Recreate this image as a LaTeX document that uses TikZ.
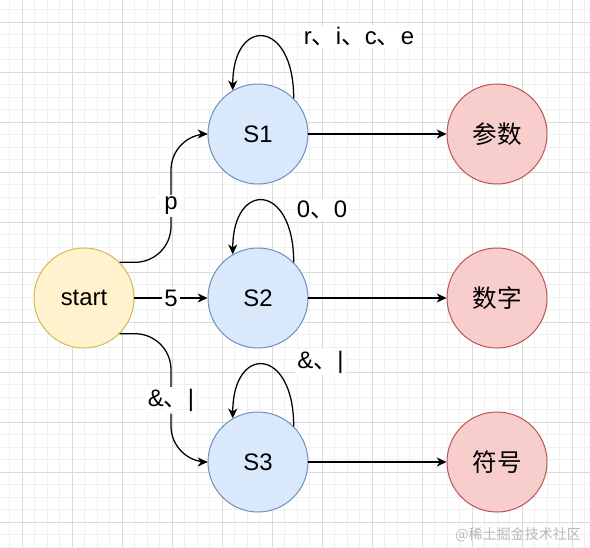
\documentclass[tikz,border=0pt]{standalone}
\usepackage{fontspec}
\setmainfont{Liberation Sans}
\newfontfamily\cjk{Noto Sans CJK SC}
\newcommand{\dunhao}{{\cjk 、}}
\definecolor{startfill}{HTML}{FFF2CC}
\definecolor{startline}{HTML}{D6B656}
\definecolor{statefill}{HTML}{DAE8FC}
\definecolor{stateline}{HTML}{6C8EBF}
\definecolor{endfill}{HTML}{F8CECC}
\definecolor{endline}{HTML}{B85450}
\definecolor{gridminor}{HTML}{F0F0F0}
\definecolor{gridmajor}{HTML}{DADADA}
\usetikzlibrary{arrows.meta, positioning}

\begin{document}
\begin{tikzpicture}[
          minorgrid/.style={draw=gridminor, line width=0.5pt},
          majorgrid/.style={draw=gridmajor, line width=0.5pt},
          startnode/.style={
              circle,
              draw=startline,
              fill=startfill,
              line width=0.7pt,
              minimum size=2.5cm,
              font=\fontsize{17}{20}\selectfont
            },
          state/.style={
              circle,
              draw=stateline,
              fill=statefill,
              line width=0.7pt,
              minimum size=2.5cm,
              font=\fontsize{17}{20}\selectfont
            },
          accept/.style={
              circle,
              draw=endline,
              fill=endfill,
              line width=0.7pt,
              minimum size=2.5cm,
              font=\fontsize{17.5}{20}\selectfont\cjk
            },
          lbl/.style={fill=white, inner sep=1.5pt, font=\fontsize{17}{20}\selectfont},
          arr/.style={-{Stealth[length=7pt, width=6.5pt, inset=2.2pt]}, line width=0.9pt},
          bent/.style={arr, rounded corners=0.9cm}
        ]
        \useasboundingbox (0,0) rectangle (14.75,-13.675);
        \fill[white] (0,0) rectangle (14.75,-13.675);
        \begin{scope}
          \clip (0,0) rectangle (14.75,-13.675);
          \foreach \i in {0,...,47} {
              \draw[minorgrid] ({0.2375+0.3125*\i},0) -- ++(0,-13.675);
            }
          \foreach \i in {0,...,43} {
              \draw[minorgrid] (0,{-0.2375-0.3125*\i}) -- ++(14.75,0);
            }
          \foreach \i in {0,...,11} {
              \draw[majorgrid] ({0.55+1.25*\i},0) -- ++(0,-13.675);
            }
          \foreach \i in {0,...,10} {
              \draw[majorgrid] (0,{-0.55-1.25*\i}) -- ++(14.75,0);
            }
        \end{scope}

        \node[startnode] (start) at (2.1,-7.45) {start};
        \node[state] (s1) at (6.45,-3.35) {S1};
        \node[state] (s2) at (6.45,-7.45) {S2};
        \node[state] (s3) at (6.45,-11.55) {S3};
        \node[accept] (param) at (12.425,-3.35) {参数};
        \node[accept] (digit) at (12.425,-7.45) {数字};
        \node[accept] (symbol) at (12.425,-11.55) {符号};

        \coordinate (bend1) at (4.275,-3.35);
        \coordinate (bend3) at (4.275,-11.55);

        \draw[bent] (start.45) -| node[lbl, pos=0.72] {p} (bend1) -- (s1.west);
        \draw[arr] (start) -- node[lbl] {5} (s2);
        \draw[bent] (start.-45) -| node[lbl, pos=0.76] {\&\dunhao|} (bend3) -- (s3.west);

        \draw[arr] (s1.45) .. controls +(0,2.0) and +(0,1.85) .. (s1.120);
        \draw[arr] (s2.45) .. controls +(0,2.0) and +(0,1.85) .. (s2.120);
        \draw[arr] (s3.45) .. controls +(0,2.0) and +(0,1.85) .. (s3.120);
        \node[lbl] (loop1) at (8.975,-0.925) {r\dunhao i\dunhao c\dunhao e};
        \node[lbl] (loop2) at (8.05,-5.25) {0\dunhao 0};
        \node[lbl] (loop3) at (8.0125,-9.05) {\&\dunhao|};

        \draw[arr] (s1) -- (param);
        \draw[arr] (s2) -- (digit);
        \draw[arr] (s3) -- (symbol);

        \node[font=\fontsize{10}{12}\selectfont\cjk, text=black!28, anchor=east] (mark) at (14.65,-13.375) {@稀土掘金技术社区};
      \end{tikzpicture}
\end{document}
